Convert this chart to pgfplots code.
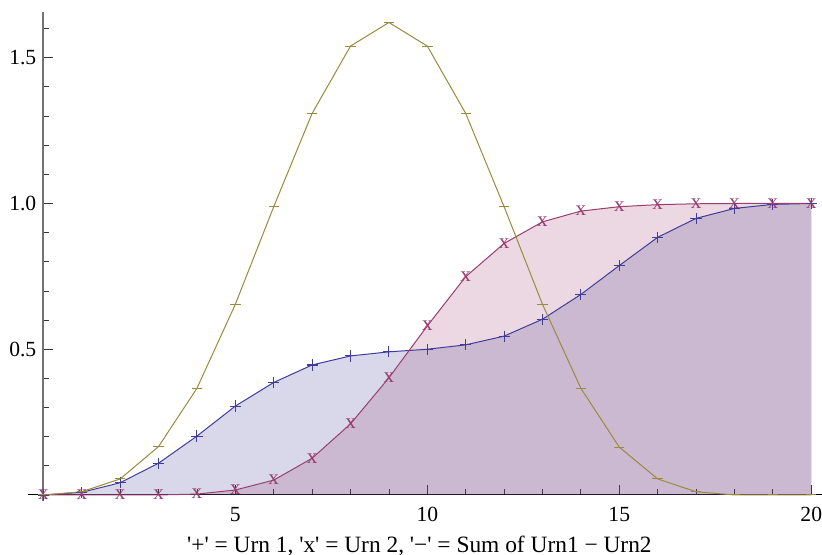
\documentclass[border=0pt]{standalone}
\usepackage{pgfplots}
\pgfplotsset{compat=1.18}
\usepackage{fontspec}
\setmainfont{Liberation Serif}

\definecolor{cblue}{rgb}{0.247,0.24,0.6}
\definecolor{cred}{rgb}{0.6,0.24,0.443}
\definecolor{cgold}{rgb}{0.6,0.545,0.24}

% x  urn1  urn2  sum
\pgfplotstableread{
x  u1     u2     s
0  0.000  0.000  0.000
1  0.009  0.000  0.011
2  0.042  0.000  0.055
3  0.109  0.000  0.166
4  0.202  0.003  0.366
5  0.305  0.017  0.654
6  0.386  0.051  0.989
7  0.446  0.126  1.309
8  0.477  0.244  1.540
9  0.491  0.402  1.621
10 0.500  0.580  1.540
11 0.515  0.749  1.309
12 0.545  0.863  0.989
13 0.603  0.937  0.654
14 0.688  0.974  0.366
15 0.787  0.989  0.164
16 0.884  0.996  0.055
17 0.949  0.999  0.011
18 0.983  1.000  0.000
19 0.997  1.000  0.000
20 1.000  1.000  0.000
}\urns

\begin{document}
\begin{tikzpicture}
\useasboundingbox (0,0) rectangle (411pt,277.5pt);
\begin{axis}[
    at={(14pt,27.1pt)}, anchor=south west,
    scale only axis, width=397pt, height=244.4pt,
    xmin=-0.4, xmax=20.28, ymin=-0.02, ymax=1.657,
    axis lines=middle,
    axis line style={-},
    x axis line style={black, line width=0.5pt},
    y axis line style={black!55, line width=0.9pt},
    xtick={5,10,15,20}, minor xtick={0,...,20},
    ytick={0.5,1,1.5}, minor ytick={0.1,0.2,0.3,0.4,0.6,0.7,0.8,0.9,1.1,1.2,1.3,1.4,1.6},
    tick align=inside,
    major tick length=5pt, minor tick length=3pt,
    tick style={black!80, line width=0.4pt},
    yticklabel style={/pgf/number format/fixed, /pgf/number format/fixed zerofill,
        /pgf/number format/precision=1},
    /pgf/number format/assume math mode=true,
    every tick label/.append style={font=\fontsize{10.8}{12}\selectfont},
    xticklabel style={yshift=-2.5pt},
    xlabel={\textquotesingle+\textquotesingle\ = Urn 1, \textquotesingle x\textquotesingle\ = Urn 2, \textquotesingle−\textquotesingle\ = Sum of Urn1 − Urn2},
    xlabel style={at={(axis description cs:0.493,-0.0925)}, anchor=center,
        font=\fontsize{11.7}{13}\selectfont},
    clip=false,
]
\addplot[draw=none, fill=cblue, fill opacity=0.2] table[x=x, y=u1] {\urns} \closedcycle;
\addplot[draw=none, fill=cred, fill opacity=0.2] table[x=x, y=u2] {\urns} \closedcycle;

\addplot[cblue, line width=0.5pt, mark=+, mark size=2.8pt,
    mark options={line width=0.55pt}] table[x=x, y=u1] {\urns};
\addplot[cred, line width=0.5pt, mark=text, text mark={x}, text mark as node=true,
    text mark style={font=\fontsize{10.5}{10.5}\selectfont, text=cred, inner sep=0pt}]
    table[x=x, y=u2] {\urns};
\addplot[cgold, line width=0.5pt, mark=-, mark size=2.6pt,
    mark options={line width=0.5pt}] table[x=x, y=s] {\urns};
\end{axis}
\end{tikzpicture}
\end{document}
